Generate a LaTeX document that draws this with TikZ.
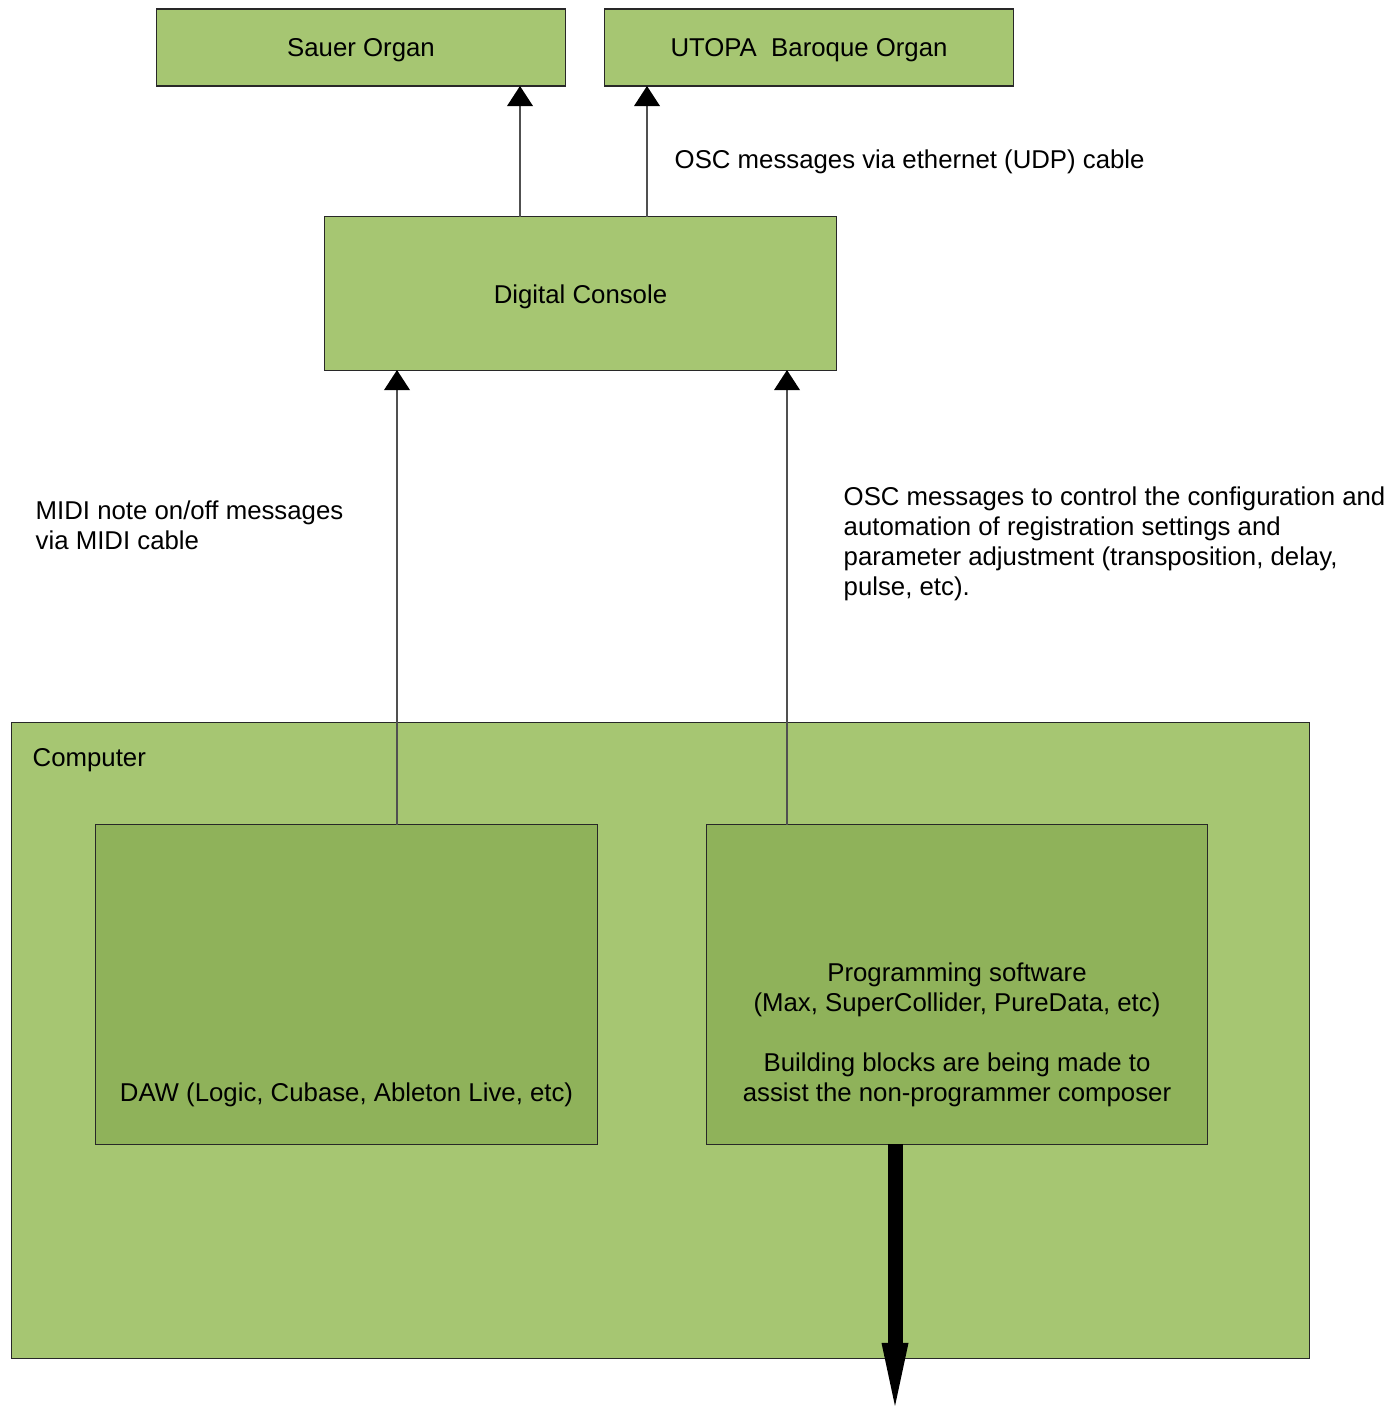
\documentclass[tikz,border=0pt]{standalone}
\usepackage{fontspec}
\setmainfont{Liberation Sans}
\usetikzlibrary{arrows.meta}
\definecolor{boxgreen}{RGB}{166,198,114}
\definecolor{innergreen}{RGB}{143,178,90}
\definecolor{edgegray}{RGB}{40,40,40}
\definecolor{wiregray}{RGB}{80,80,80}

\begin{document}
\begin{tikzpicture}[x=0.01cm, y=-0.01cm,
    font=\fontsize{7.33}{8.54}\selectfont,
    unit/.style={draw=edgegray, line width=0.3pt, fill=boxgreen, inner sep=0pt, outer sep=0pt},
    part/.style={unit, fill=innergreen},
    lbl/.style={inner sep=0pt, align=left},
    wire/.style={draw=wiregray, line width=0.3pt, -{Triangle[width=0.26cm, length=0.2cm, line width=0pt, black]}},
    bigwire/.style={line width=0.15cm, -{Triangle[width=0.27cm, length=0.63cm, line width=0pt]}}
]
\useasboundingbox (0,0) rectangle (1394,1406);

% organs and console
\node[unit, minimum width=4.08cm, minimum height=0.77cm] (sauer) at (361,47.5) {};
\node[unit, minimum width=4.08cm, minimum height=0.77cm] (utopa) at (809,47.5) {};
\node[unit, minimum width=5.11cm, minimum height=1.53cm] (console) at (580.5,293.5) {};
\node[lbl] (sauertxt) at (361,50) {Sauer Organ};
\node[lbl] (utopatxt) at (809,50) {UTOPA\ \ Baroque Organ};
\node[lbl] (consoletxt) at (580.5,297) {Digital Console};

% computer and its programs
\node[unit, minimum width=12.97cm, minimum height=6.35cm] (computer) at (660.5,1040.5) {};
\node[lbl, anchor=west] (comptxt) at (32,760) {Computer};
\node[part, minimum width=5.01cm, minimum height=3.19cm] (daw) at (346.5,984.5) {};
\node[part, minimum width=5.00cm, minimum height=3.19cm] (prog) at (957,984.5) {};
\node[lbl, align=center] (dawtxt) at (346.5,1095) {DAW (Logic, Cubase, Ableton Live, etc)};
\node[lbl, align=center] (progtxt) at (957,1035) {Programming software\\(Max, SuperCollider, PureData, etc)\\[0.3cm]Building blocks are being made to\\assist the non-programmer composer};

% connectors
\draw[wire] (520,0 |- console.north) -- (520,0 |- sauer.south);
\draw[wire] (647,0 |- console.north) -- (647,0 |- utopa.south);
\draw[wire] (397,0 |- daw.north) -- (397,0 |- console.south);
\draw[wire] (787,0 |- prog.north) -- (787,0 |- console.south);
\coordinate (out) at (895,1406);
\draw[bigwire] (895,0 |- prog.south) -- (out);

% labels
\node[lbl, anchor=west] (osc) at (674,162) {OSC messages via ethernet (UDP) cable};
\node[lbl, anchor=west] (midi) at (35,525) {MIDI note on/off messages\\via MIDI cable};
\node[lbl, anchor=west] (ctrl) at (843,544) {OSC messages to control the configuration and\\automation of registration settings and\\parameter adjustment (transposition, delay,\\pulse, etc).};

\end{tikzpicture}
\end{document}
